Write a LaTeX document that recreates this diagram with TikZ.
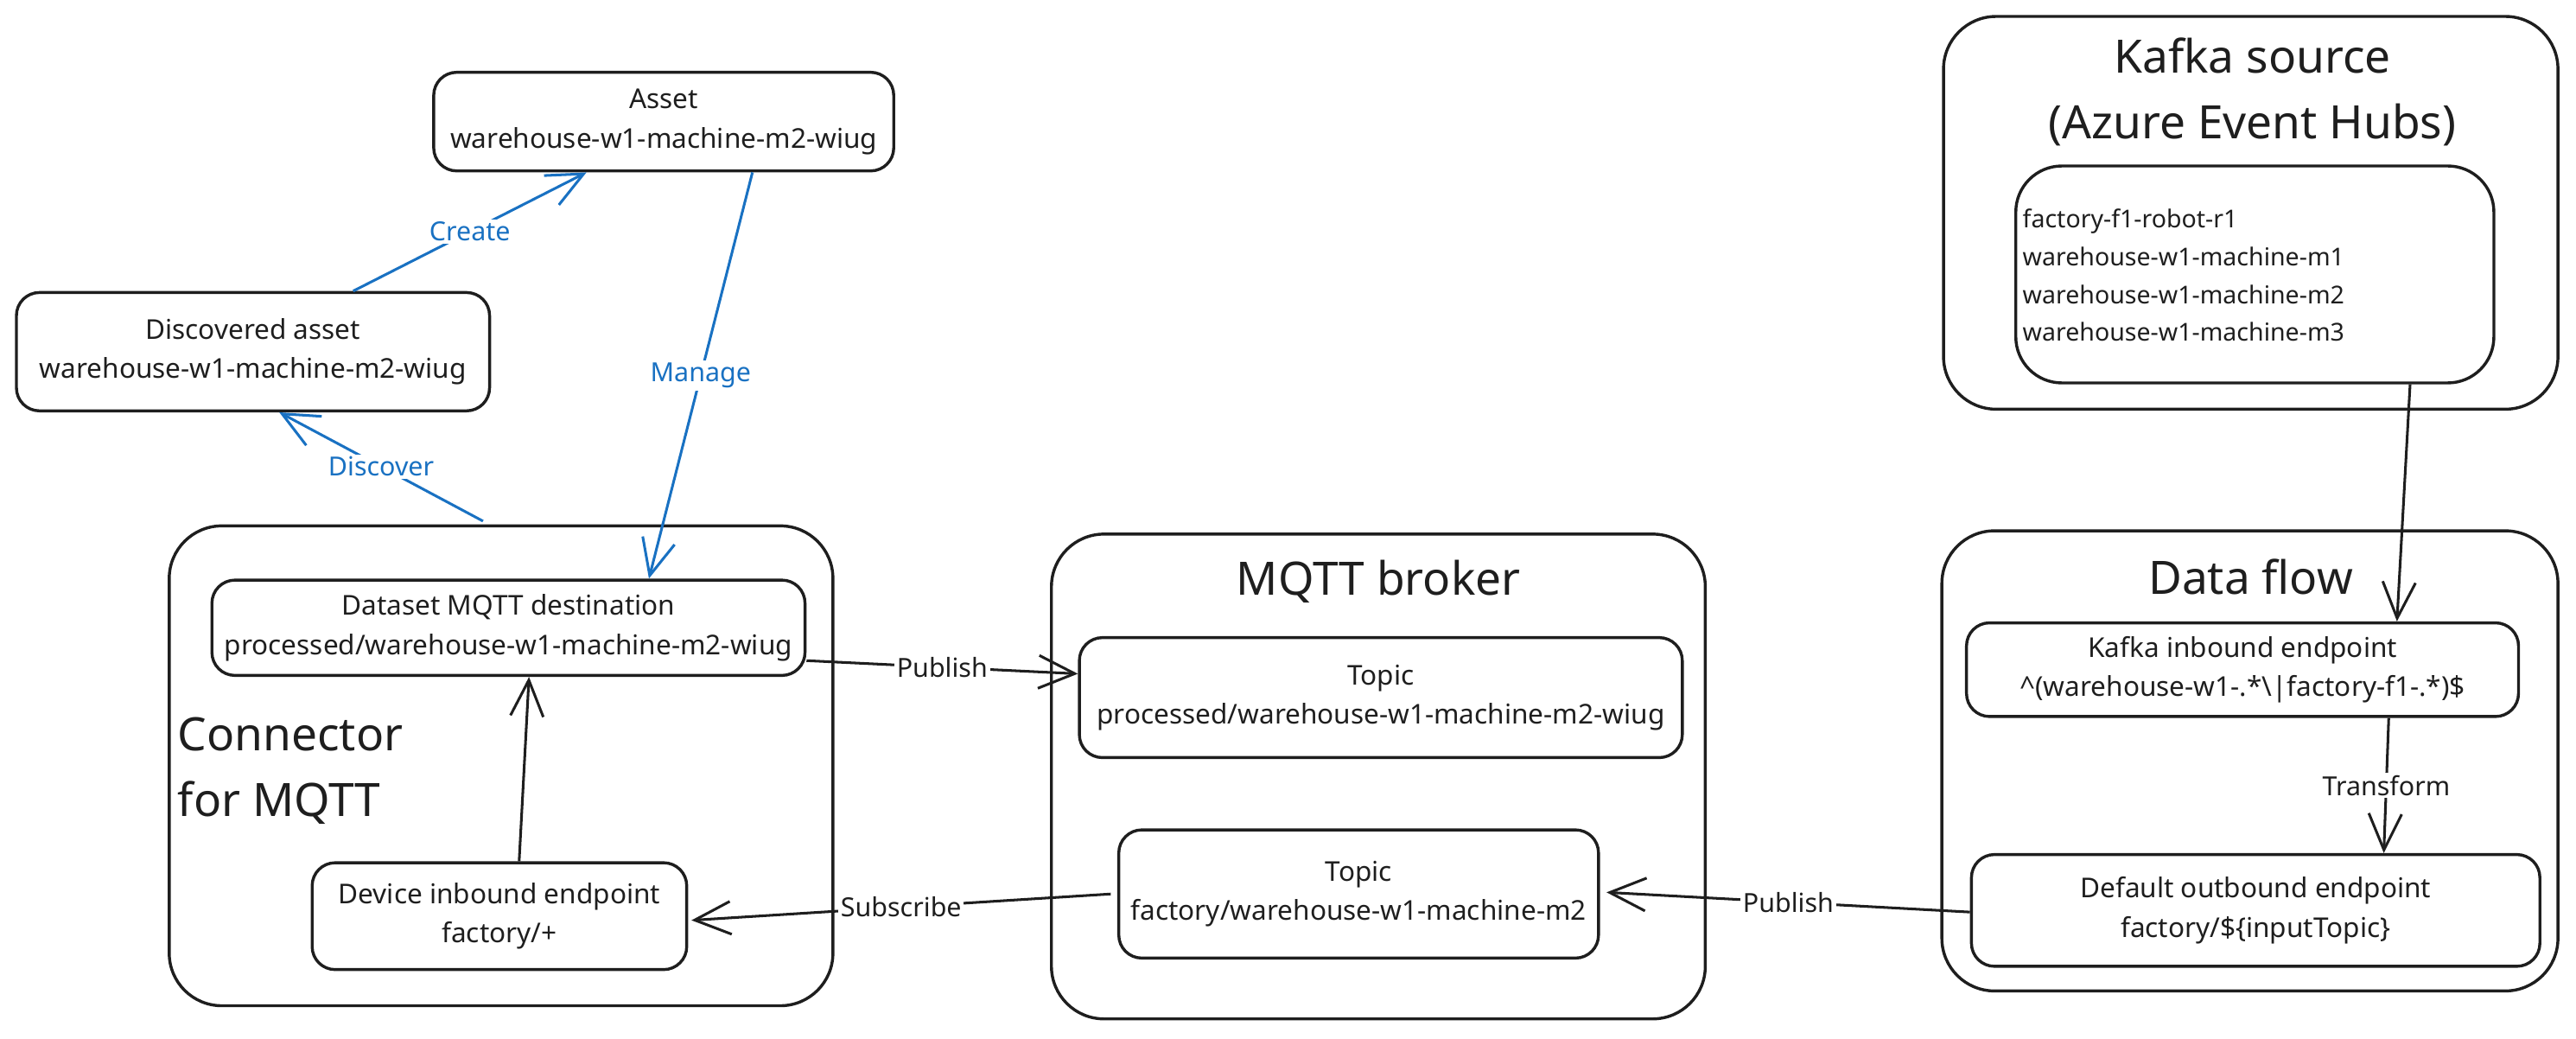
\documentclass[tikz,border=0pt]{standalone}
\usepackage{fontspec}
\setmainfont{Noto Sans}
\usetikzlibrary{arrows.meta}
\definecolor{ink}{HTML}{1E1E1E}
\definecolor{exblue}{HTML}{1971C2}
\begin{document}
\begin{tikzpicture}[x=1pt,y=-1pt,
  box/.style={draw=ink, line width=1.8pt, rounded corners=14pt, inner sep=0pt, align=center, text=ink, font=\fontsize{16.6}{24}\selectfont},
  group/.style={draw=ink, line width=1.8pt, rounded corners=32pt, inner sep=0pt},
  title/.style={text=ink, font=\fontsize{28}{40}\selectfont, inner sep=0pt, align=center},
  conn/.style={draw=ink, line width=1.6pt, -{Straight Barb[length=22pt,width=20pt,line width=1.6pt]}},
  bconn/.style={conn, draw=exblue},
  lbl/.style={fill=white, text=ink, font=\fontsize{16}{20}\selectfont, inner sep=1.5pt},
  blbl/.style={lbl, text=exblue},
]
\useasboundingbox (0,0) rectangle (1568,632);

% group frames
\node[group, minimum width=404pt, minimum height=292pt] (connector) at (305,466) {};
\node[group, minimum width=398pt, minimum height=295pt] (broker) at (839,472.5) {};
\node[group, minimum width=374pt, minimum height=239pt] (kafka) at (1370,129.5) {};
\node[group, minimum width=375pt, minimum height=280pt] (dataflow) at (1369.5,463) {};

% titles
\node[title, anchor=west, align=left] (conntitle) at (108,469) {Connector\\for MQTT};
\node[title] (brokertitle) at (839,354) {MQTT broker};
\node[title] (kafkatitle) at (1371,56) {Kafka source\\(Azure Event Hubs)};
\node[title] (dftitle) at (1370,351) {Data flow};

% boxes
\node[box, minimum width=280pt, minimum height=60pt] (asset) at (404,74) {Asset\\warehouse-w1-machine-m2-wiug};
\node[box, minimum width=288pt, minimum height=72pt] (disc) at (154,214) {Discovered asset\\warehouse-w1-machine-m2-wiug};
\node[box, minimum width=361pt, minimum height=58pt] (dataset) at (309.5,382) {Dataset MQTT destination\\processed/warehouse-w1-machine-m2-wiug};
\node[box, minimum width=228pt, minimum height=65pt] (device) at (304,557.5) {Device inbound endpoint\\factory/+};
\node[box, minimum width=367pt, minimum height=73pt] (topic1) at (840.5,424.5) {Topic\\processed/warehouse-w1-machine-m2-wiug};
\node[box, minimum width=292pt, minimum height=78pt] (topic2) at (827,544) {Topic\\factory/warehouse-w1-machine-m2};
\node[box, rounded corners=28pt, minimum width=291pt, minimum height=132pt] (kbox) at (1372.5,167) {};
\node[anchor=west, align=left, inner sep=0pt, text=ink, font=\fontsize{15}{23}\selectfont] (klist) at (1231,167.5) {factory-f1-robot-r1\\warehouse-w1-machine-m1\\warehouse-w1-machine-m2\\warehouse-w1-machine-m3};
\node[box, minimum width=336pt, minimum height=57pt] (kin) at (1365,407.5) {Kafka inbound endpoint\\\textasciicircum(warehouse-w1-.*\textbackslash|factory-f1-.*)\$};
\node[box, minimum width=346pt, minimum height=68pt] (dout) at (1373,554) {Default outbound endpoint\\factory/\$\{inputTopic\}};

% connectors
\draw[bconn] ([xshift=61pt]disc.north) -- node[blbl] {Create} ([xshift=-47pt]asset.south);
\draw[bconn] ([xshift=54pt]asset.south) -- node[blbl] {Manage} ([xshift=85.5pt]dataset.north);
\draw[bconn] ([xshift=-11pt,yshift=2pt]connector.north) -- node[blbl] {Discover} ([xshift=16pt]disc.south);
\draw[conn] ([xshift=12pt]device.north) -- ([xshift=12.5pt]dataset.south);
\draw[conn] ([yshift=-20pt]dataset.east) -- node[lbl] {Publish} ([yshift=14.5pt]topic1.west);
\draw[conn] ([xshift=-4pt]topic2.west) -- node[lbl] {Subscribe} ([xshift=2pt,yshift=-2.5pt]device.east);
\draw[conn] ([xshift=94.5pt]kbox.south) -- ([xshift=94pt]kin.north);
\draw[conn] ([xshift=89pt]kin.south) -- node[lbl] {Transform} ([xshift=78pt]dout.north);
\draw[conn] ([yshift=-1pt]dout.west) -- node[lbl] {Publish} ([xshift=4pt,yshift=1pt]topic2.east);
\end{tikzpicture}
\end{document}
